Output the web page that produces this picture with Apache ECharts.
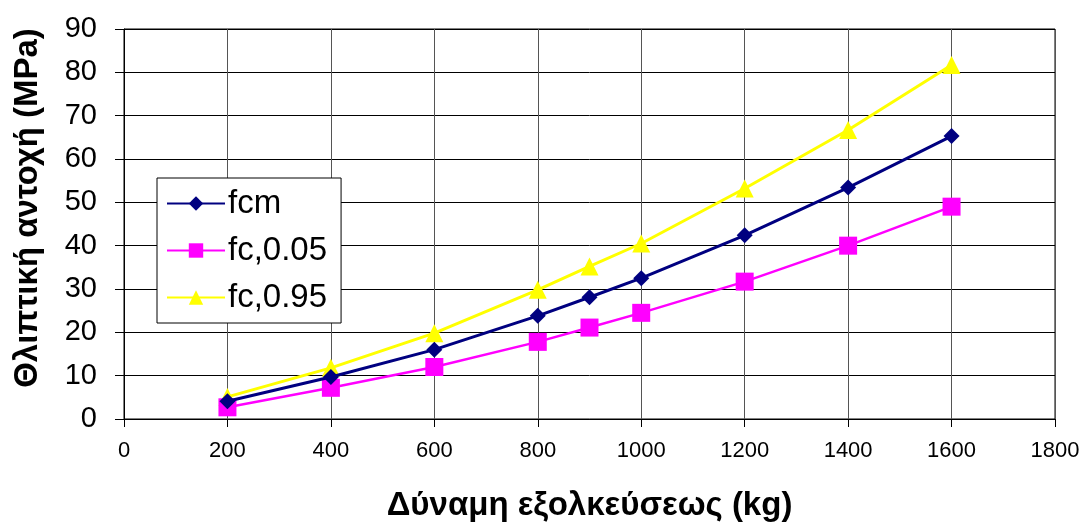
<!DOCTYPE html>
<html><head><meta charset="utf-8">
<script src="https://cdn.jsdelivr.net/npm/echarts@6/dist/echarts.min.js"></script>
<style>html,body{margin:0;padding:0;background:#fff}#c{width:1086px;height:523px}</style>
</head><body><div id="c"></div>
<script>
const xValues = [200, 400, 600, 800, 900, 1000, 1200, 1400, 1600];
const fcm = [4.1, 9.7, 16.0, 23.8, 28.1, 32.5, 42.4, 53.4, 65.3];
const fc005 = [2.7, 7.2, 12.0, 17.8, 21.1, 24.5, 31.7, 40.0, 49.0];
const fc095 = [5.1, 11.8, 19.8, 29.8, 35.2, 40.5, 53.2, 66.7, 81.7];
const seriesNames = ['fcm', 'fc,0.05', 'fc,0.95'];
const xTitle = 'Δύναμη εξολκεύσεως (kg)';
const yTitle = 'Θλιπτική αντοχή (MPa)';

const pair = arr => xValues.map((x, i) => [x, arr[i]]);
const font = 'Liberation Sans, Arial, sans-serif';
const chart = echarts.init(document.getElementById('c'));
chart.setOption({
  animation: false,
  backgroundColor: '#fff',
  grid: { left: 124, right: 31, top: 29, bottom: 104, show: true, borderColor: '#000', borderWidth: 1,
          containLabel: false, outerBoundsMode: 'none' },
  legend: {
    orient: 'vertical', left: 157, top: 178,
    backgroundColor: '#fff', borderColor: '#000', borderWidth: 1,
    padding: [9, 14, 9, 9], itemGap: 14, itemWidth: 58, itemHeight: 18,
    textStyle: { fontFamily: font, fontSize: 33, color: '#000', padding: [0, 0, 0, -2] },
    data: seriesNames
  },
  xAxis: {
    type: 'value', min: 0, max: 1800, interval: 200,
    name: xTitle, nameLocation: 'middle', nameGap: 70,
    nameTextStyle: { fontFamily: font, fontSize: 33, fontWeight: 'bold', color: '#000' },
    axisLine: { show: true, onZero: false, lineStyle: { color: '#000', width: 1 } },
    axisTick: { show: true, length: 8, lineStyle: { color: '#000' } },
    axisLabel: { fontFamily: font, fontSize: 22, color: '#000', margin: 21, formatter: v => String(v) },
    splitLine: { show: true, lineStyle: { color: '#555', width: 1 } }
  },
  yAxis: {
    type: 'value', min: 0, max: 90, interval: 10,
    name: yTitle, nameLocation: 'middle', nameGap: 80, nameRotate: 90,
    nameTextStyle: { fontFamily: font, fontSize: 33, fontWeight: 'bold', color: '#000', padding: [0, 0, 0, 32] },
    axisLine: { show: true, onZero: false, lineStyle: { color: '#000', width: 1 } },
    axisTick: { show: true, length: 9, lineStyle: { color: '#000' } },
    axisLabel: { fontFamily: font, fontSize: 29, color: '#000', margin: 27, formatter: v => String(v) },
    splitLine: { show: true, lineStyle: { color: '#000', width: 1 } }
  },
  series: [
    { name: seriesNames[0], type: 'line', data: pair(fcm), symbol: 'diamond', symbolSize: 16,
      lineStyle: { color: '#000080', width: 3 }, itemStyle: { color: '#000080' }, z: 3 },
    { name: seriesNames[1], type: 'line', data: pair(fc005), symbol: 'rect', symbolSize: 18,
      lineStyle: { color: '#FF00FF', width: 2.5 }, itemStyle: { color: '#FF00FF' }, z: 2 },
    { name: seriesNames[2], type: 'line', data: pair(fc095), symbol: 'triangle', symbolSize: 18,
      lineStyle: { color: '#FFFF00', width: 3 }, itemStyle: { color: '#FFFF00' }, z: 1 }
  ]
});
</script></body></html>
